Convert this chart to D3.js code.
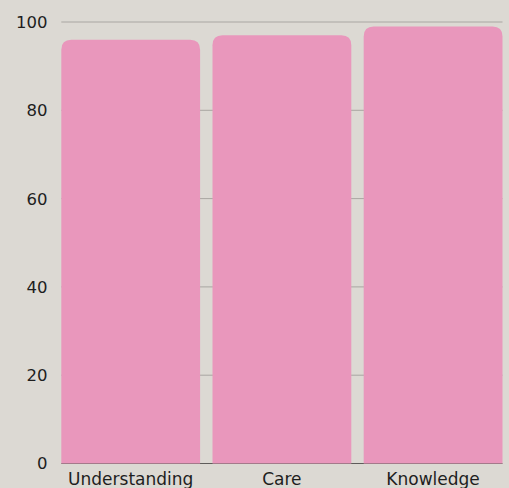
<!DOCTYPE html>
<html>
<head>
<meta charset="utf-8">
<script src="https://cdn.jsdelivr.net/npm/d3@7"></script>
<style>
  html, body { margin: 0; padding: 0; background: #dcd9d3; }
  svg { display: block; }
</style>
</head>
<body>
<svg></svg>
<script>
var width = 509;
var height = 488;

var categories = ['Understanding', 'Care', 'Knowledge'];
var values = [96, 97, 99];
var yTicks = [0, 20, 40, 60, 80, 100];

var margin = { top: 22, right: 6.5, bottom: 24.5, left: 61.3 };

var xScale = d3.scaleBand()
        .domain(categories)
        .range([margin.left, width - margin.right])
        .paddingInner(0.082)
        .paddingOuter(0);

var yScale = d3.scaleLinear()
        .domain([0, 100])
        .range([height - margin.bottom, margin.top]);

var svg = d3.select('svg')
      .attr('width', width)
      .attr('height', height)
      .style('font-family', '"DejaVu Sans", sans-serif');

svg.append('rect')
  .attr('width', width)
  .attr('height', height)
  .attr('fill', '#dcd9d3');

//gridlines
svg.append('g')
  .selectAll('line')
  .data(yTicks.filter(d => d > 0))
  .enter()
  .append('line')
    .attr('x1', margin.left)
    .attr('x2', width - margin.right)
    .attr('y1', d => yScale(d))
    .attr('y2', d => yScale(d))
    .attr('stroke', '#a9a6a2')
    .attr('stroke-width', 1);

//baseline
svg.append('line')
  .attr('x1', margin.left)
  .attr('x2', width - margin.right)
  .attr('y1', yScale(0))
  .attr('y2', yScale(0))
  .attr('stroke', '#5e5c5a')
  .attr('stroke-width', 1);

//bars, rounded on top only
var r = 10;
svg.append('g')
  .selectAll('path')
  .data(values)
  .enter()
  .append('path')
    .attr('fill', '#e997bc')
    .attr('d', function (d, i) {
      var x0 = xScale(categories[i]);
      var x1 = x0 + xScale.bandwidth();
      var y0 = yScale(0);
      var y1 = yScale(d);
      return 'M' + x0 + ',' + y0 +
        'V' + (y1 + r) +
        'Q' + x0 + ',' + y1 + ' ' + (x0 + r) + ',' + y1 +
        'H' + (x1 - r) +
        'Q' + x1 + ',' + y1 + ' ' + x1 + ',' + (y1 + r) +
        'V' + y0 + 'Z';
    });

//y tick labels
svg.append('g')
  .selectAll('text')
  .data(yTicks)
  .enter()
  .append('text')
    .attr('x', 47.5)
    .attr('y', d => yScale(d))
    .attr('dy', '0.36em')
    .attr('text-anchor', 'end')
    .attr('fill', '#1e1e1e')
    .style('font-size', '16.5px')
    .text(d => d);

//category labels
svg.append('g')
  .selectAll('text')
  .data(categories)
  .enter()
  .append('text')
    .attr('x', d => xScale(d) + xScale.bandwidth() / 2)
    .attr('y', 484.5)
    .attr('text-anchor', 'middle')
    .attr('fill', '#1e1e1e')
    .style('font-size', '17px')
    .text(d => d);
</script>
</body>
</html>
